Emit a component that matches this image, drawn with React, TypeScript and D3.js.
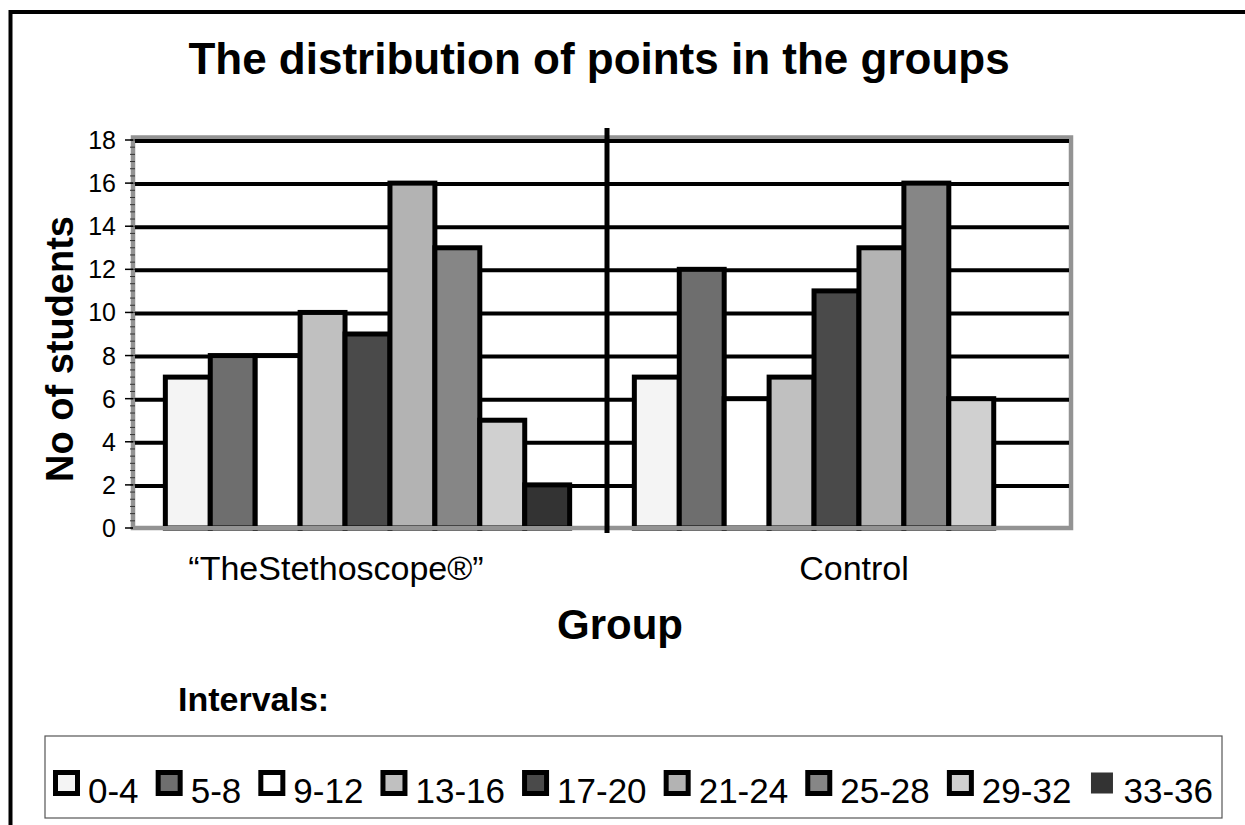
import { useEffect, useRef } from "react"
import * as d3 from "d3"

// interval classes, one bar per class in each group
const intervals = ["0-4", "5-8", "9-12", "13-16", "17-20", "21-24", "25-28", "29-32", "33-36"]
const groups = ["\u201CTheStethoscope\u00AE\u201D", "Control"]
const stethoscopeValues = [7, 8, 8, 10, 9, 16, 13, 5, 2]
const controlValues = [7, 12, 6, 7, 11, 13, 16, 6, 0]
const intervalColors = ["#f4f4f4", "#6e6e6e", "#ffffff", "#c0c0c0", "#4a4a4a", "#b3b3b3", "#868686", "#d0d0d0", "#333333"]
const yTicks = [0, 2, 4, 6, 8, 10, 12, 14, 16, 18]

const W = 1245, H = 825
const font = "'Liberation Sans', Arial, Helvetica, sans-serif"

export default function App() {
    const ref = useRef(null)

    useEffect(() => {
        const svg = d3.select(ref.current)
        svg.selectAll("*").remove()

        const plot = { left: 133, right: 1071, top: 140, bottom: 528 }

        const yScale = d3.scaleLinear().domain([0, 18]).range([plot.bottom, plot.top])
        const xGroup = d3.scaleBand().domain(groups).range([plot.left, plot.right])
        const xInner = d3.scaleBand().domain(intervals)
            .range([0, xGroup.bandwidth()])
            .paddingInner(0)
            .paddingOuter(0.72)

        // outer frame (only top and left visible)
        svg.append("line").attr("x1", 9).attr("x2", W).attr("y1", 12).attr("y2", 12)
            .attr("stroke", "#000").attr("stroke-width", 4)
        svg.append("line").attr("x1", 10.5).attr("x2", 10.5).attr("y1", 10).attr("y2", H)
            .attr("stroke", "#000").attr("stroke-width", 4)

        // title
        svg.append("text")
            .attr("x", 599).attr("y", 74)
            .attr("text-anchor", "middle")
            .style("font-family", font).style("font-weight", "bold").style("font-size", "44px")
            .text("The distribution of points in the groups")

        // gray plot frame
        svg.append("rect")
            .attr("x", plot.left).attr("y", plot.top - 2.5)
            .attr("width", plot.right - plot.left).attr("height", plot.bottom - plot.top + 2.5)
            .attr("fill", "#fff").attr("stroke", "#939393").attr("stroke-width", 4.5)

        // gridlines
        svg.append("g").selectAll("line")
            .data(yTicks.filter((d) => d > 0))
            .join("line")
            .attr("x1", plot.left + 2).attr("x2", plot.right - 2)
            .attr("y1", (d) => yScale(d) + 1).attr("y2", (d) => yScale(d) + 1)
            .attr("stroke", "#000").attr("stroke-width", 4)

        // bars
        const series = [stethoscopeValues, controlValues]
        groups.forEach((g, gi) => {
            const gEl = svg.append("g").attr("transform", `translate(${xGroup(g)},0)`)
            gEl.selectAll("rect")
                .data(series[gi].map((v, i) => ({ v, i })).filter((d) => d.v > 0))
                .join("rect")
                .attr("x", (d) => xInner(intervals[d.i]))
                .attr("y", (d) => yScale(d.v))
                .attr("width", xInner.bandwidth())
                .attr("height", (d) => yScale(0) - yScale(d.v))
                .attr("fill", (d) => intervalColors[d.i])
                .attr("stroke", "#000")
                .attr("stroke-width", 5)
        })

        // y axis: gray bar with minor ticks
        const yAxisG = svg.append("g")
        yAxisG.append("line")
            .attr("x1", plot.left).attr("x2", plot.left)
            .attr("y1", plot.top - 4).attr("y2", plot.bottom + 2)
            .attr("stroke", "#939393").attr("stroke-width", 4)
        yAxisG.selectAll(".minor")
            .data(d3.range(0, 18 * 3 + 1).map((d) => d / 3))
            .join("line")
            .attr("class", "minor")
            .attr("x1", plot.left - 3).attr("x2", plot.left + 2)
            .attr("y1", (d) => yScale(d)).attr("y2", (d) => yScale(d))
            .attr("stroke", "#333").attr("stroke-width", 1)
        yAxisG.selectAll(".major")
            .data(yTicks)
            .join("line")
            .attr("class", "major")
            .attr("x1", plot.left - 8).attr("x2", plot.left)
            .attr("y1", (d) => yScale(d)).attr("y2", (d) => yScale(d))
            .attr("stroke", "#000").attr("stroke-width", 1.5)
        yAxisG.selectAll("text")
            .data(yTicks)
            .join("text")
            .attr("x", plot.left - 17)
            .attr("y", (d) => yScale(d))
            .attr("dy", "0.36em")
            .attr("text-anchor", "end")
            .style("font-family", font).style("font-size", "25px")
            .text((d) => d)

        // bottom axis gray
        svg.append("line")
            .attr("x1", plot.left).attr("x2", plot.right + 2)
            .attr("y1", plot.bottom).attr("y2", plot.bottom)
            .attr("stroke", "#939393").attr("stroke-width", 4)

        // group divider
        svg.append("line")
            .attr("x1", xGroup("Control") + 5).attr("x2", xGroup("Control") + 5)
            .attr("y1", plot.top - 12).attr("y2", plot.bottom + 5)
            .attr("stroke", "#000").attr("stroke-width", 5)

        // category labels
        const labelX = [336, 854]
        svg.append("g").selectAll("text")
            .data(groups)
            .join("text")
            .attr("x", (d, i) => labelX[i])
            .attr("y", 580)
            .attr("text-anchor", "middle")
            .style("font-family", font).style("font-size", "34px")
            .text((d) => d)

        // axis titles
        svg.append("text")
            .attr("x", 620).attr("y", 639)
            .attr("text-anchor", "middle")
            .style("font-family", font).style("font-weight", "bold").style("font-size", "42px")
            .text("Group")

        svg.append("text")
            .attr("transform", `translate(73, 349) rotate(-90)`)
            .attr("text-anchor", "middle")
            .style("font-family", font).style("font-weight", "bold").style("font-size", "38px")
            .text("No of students")

        // legend
        svg.append("text")
            .attr("x", 178).attr("y", 711)
            .style("font-family", font).style("font-weight", "bold").style("font-size", "34px")
            .text("Intervals:")

        svg.append("rect")
            .attr("x", 45).attr("y", 736)
            .attr("width", 1177).attr("height", 82)
            .attr("fill", "#fff").attr("stroke", "#555").attr("stroke-width", 1.2)

        const legend = svg.append("g")
        const items = legend.selectAll("g")
            .data(intervals)
            .join("g")
        items.append("rect")
            .attr("x", 2.5).attr("y", 772.5)
            .attr("width", 22).attr("height", 21)
            .attr("fill", (d, i) => intervalColors[i])
            .attr("stroke", (d, i) => i === intervals.length - 1 ? "none" : "#000")
            .attr("stroke-width", 5)
        items.append("text")
            .attr("x", 35).attr("y", 803)
            .style("font-family", font).style("font-size", "35px")
            .text((d) => d)

        // spread legend items across the box
        const widths = []
        items.each(function () {
            widths.push(35 + this.querySelector("text").getComputedTextLength())
        })
        const start = 53, end = 1213
        const gap = (end - start - d3.sum(widths)) / (widths.length - 1)
        let x = start
        items.attr("transform", (d, i) => {
            const t = `translate(${x},0)`
            x += widths[i] + gap
            return t
        })
    }, [])

    return (
        <svg ref={ref} width={W} height={H} style={{ position: "absolute", left: 0, top: 0, background: "#fff" }} />
    )
}
